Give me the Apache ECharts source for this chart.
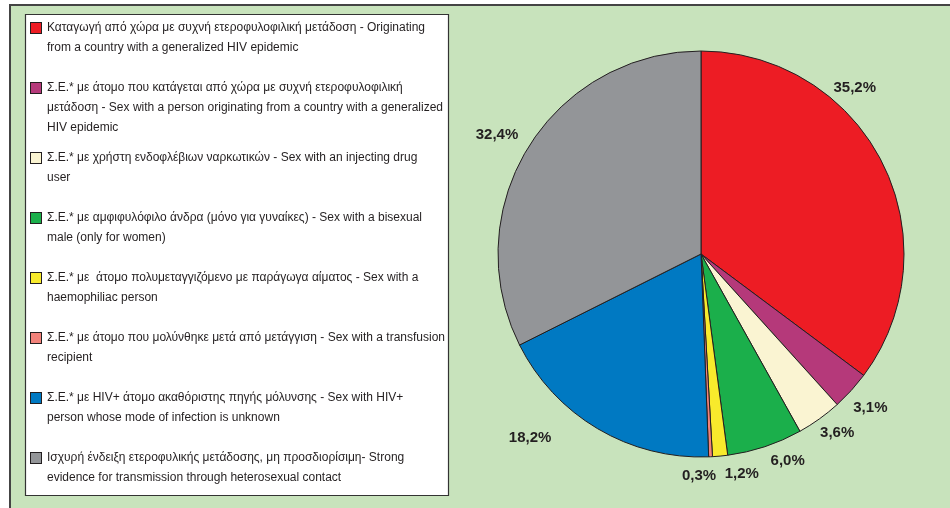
<!DOCTYPE html>
<html>
<head>
<meta charset="utf-8">
<script src="https://cdn.jsdelivr.net/npm/echarts@6/dist/echarts.min.js"></script>
<style>
  html, body { margin: 0; padding: 0; background: #ffffff; }
  #chart { width: 950px; height: 508px; }
</style>
</head>
<body>
<div id="chart"></div>
<script>
// categories (legend text, line breaks as in the original)
var categories = [
    'Καταγωγή από χώρα με συχνή ετεροφυλοφιλική μετάδοση - Originating\nfrom a country with a generalized HIV epidemic',
    'Σ.Ε.* με άτομο που κατάγεται από χώρα με συχνή ετεροφυλοφιλική\nμετάδοση - Sex with a person originating from a country with a generalized\nHIV epidemic',
    'Σ.Ε.* με χρήστη ενδοφλέβιων ναρκωτικών - Sex with an injecting drug\nuser',
    'Σ.Ε.* με αμφιφυλόφιλο άνδρα (μόνο για γυναίκες) - Sex with a bisexual\nmale (only for women)',
    'Σ.Ε.* με  άτομο πολυμεταγγιζόμενο με παράγωγα αίματος - Sex with a\nhaemophiliac person',
    'Σ.Ε.* με άτομο που μολύνθηκε μετά από μετάγγιση - Sex with a transfusion\nrecipient',
    'Σ.Ε.* με HIV+ άτομο ακαθόριστης πηγής μόλυνσης - Sex with HIV+\nperson whose mode of infection is unknown',
    'Ισχυρή ένδειξη ετεροφυλικής μετάδοσης, μη προσδιορίσιμη- Strong\nevidence for transmission through heterosexual contact'
];
var values = [35.2, 3.1, 3.6, 6.0, 1.2, 0.3, 18.2, 32.4];
var colors = ['#ED1C24', '#B5397A', '#FAF4D2', '#1BAF4B', '#F8EA2C', '#F2827A', '#0079C2', '#939598'];

// label placement tweaks (degrees off the slice middle, distance from centre)
var labelShift = [-20.5, 0, -1.6, -4.4, -5.1, 3.2, 12.3, -1.5];
var labelDist = [226, 229, 225, 224, 224, 222, 251, 236];

var cx = 701, cy = 254, R = 203;
var font = '"Liberation Sans", Arial, sans-serif';

var total = values.reduce(function (a, b) { return a + b; }, 0);
var mids = [];
var acc = 0;
values.forEach(function (v) {
    mids.push((acc + v / 2) / total * 360);
    acc += v;
});

var rich = {
    t: { fontSize: 12, lineHeight: 20, color: '#231f20', fontFamily: font },
    sp: { width: 16, lineHeight: 20 },
    sp2: { width: 6, lineHeight: 20 }
};
colors.forEach(function (c, i) {
    rich['q' + i] = {
        width: 10, height: 10, lineHeight: 20,
        backgroundColor: c, borderColor: '#231f20', borderWidth: 1
    };
});

function legendText(name) {
    var i = categories.indexOf(name);
    var lines = name.split('\n');
    return lines.map(function (l, k) {
        return (k === 0 ? '{q' + i + '|}{sp2|}' : '{sp|}') + '{t|' + l + '}';
    }).join('\n');
}

var legendBase = {
    orient: 'vertical',
    left: 21,
    icon: 'none',
    itemWidth: 0,
    itemHeight: 10,
    itemGap: 20,
    selectedMode: false,
    formatter: legendText,
    textStyle: { rich: rich, fontSize: 12, lineHeight: 20 }
};

var chart = echarts.init(document.getElementById('chart'));
chart.setOption({
    animation: false,
    backgroundColor: '#ffffff',
    graphic: [
        {
            type: 'rect', z: -10, silent: true,
            shape: { x: 10, y: 5, width: 980, height: 540 },
            style: { fill: '#C8E3BC', stroke: '#444444', lineWidth: 2 }
        },
        {
            type: 'rect', z: -9, silent: true,
            shape: { x: 25.5, y: 14.5, width: 423, height: 481 },
            style: { fill: '#ffffff', stroke: '#333333', lineWidth: 1.2 }
        }
    ],
    legend: [
        Object.assign({}, legendBase, { top: 13, data: categories.slice(0, 2) }),
        Object.assign({}, legendBase, { top: 143, data: categories.slice(2) })
    ],
    series: [{
        type: 'pie',
        center: [cx, cy],
        radius: R,
        startAngle: 90,
        clockwise: true,
        avoidLabelOverlap: false,
        itemStyle: { borderColor: '#231f20', borderWidth: 1 },
        emphasis: { disabled: true },
        label: {
            show: true,
            position: 'outside',
            fontFamily: font,
            fontSize: 15,
            fontWeight: 'bold',
            color: '#231f20',
            formatter: function (p) {
                return p.value.toFixed(1).replace('.', ',') + '%';
            }
        },
        labelLine: { show: false },
        labelLayout: function (p) {
            var i = p.dataIndex;
            var a = (mids[i] + labelShift[i]) * Math.PI / 180;
            return {
                x: cx + labelDist[i] * Math.sin(a),
                y: cy - labelDist[i] * Math.cos(a),
                align: 'center',
                verticalAlign: 'middle'
            };
        },
        data: categories.map(function (name, i) {
            return { name: name, value: values[i], itemStyle: { color: colors[i] } };
        })
    }]
});
</script>
</body>
</html>
